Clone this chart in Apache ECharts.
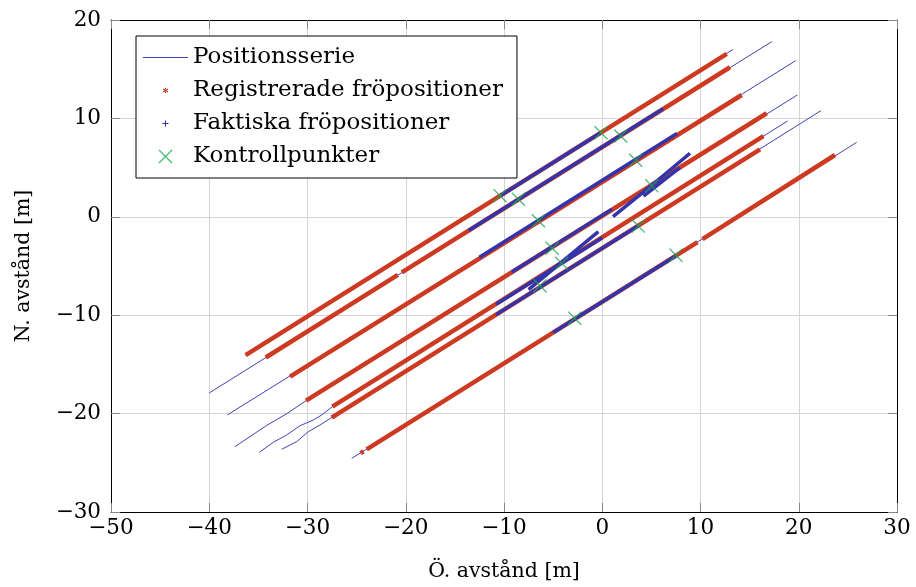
<!DOCTYPE html>
<html>
<head>
<meta charset="utf-8">
<script src="https://cdn.jsdelivr.net/npm/echarts@6/dist/echarts.min.js"></script>
<style>html,body{margin:0;padding:0;background:#fff}#c{width:916px;height:587px}</style>
</head>
<body>
<div id="c"></div>
<script>
// ---------- data ----------
const xTicks = [-50, -40, -30, -20, -10, 0, 10, 20, 30];
const yTicks = [-30, -20, -10, 0, 10, 20];

// Positionsserie: one polyline per swath
const pos1 = [[-36.3, -14.05], [13.3, 17.0]];
const pos2 = [[-40.0, -17.9], [17.25, 17.8]];
const pos3 = [[-38.16, -20.14], [19.69, 15.87]];
const pos4 = [[-37.38, -23.36], [-34.15, -21.2], [-32.1, -20.0], [-30.15, -18.69], [19.86, 12.38]];
const pos5 = [[-34.9, -23.93], [-33.48, -22.92], [-32.12, -22.17], [-30.76, -21.23], [-29.41, -20.65], [-28.55, -20.14], [-27.47, -19.3], [18.87, 9.74]];
const pos6 = [[-32.63, -23.63], [-31.1, -22.85], [-29.92, -21.84], [-28.73, -21.16], [-27.54, -20.4], [22.26, 10.79]];
const pos7 = [[-25.5, -24.55], [25.9, 7.57]];

// Registrerade fröpositioner: stretches of recorded positions
const reg1 = [[-36.3, -14.05], [12.67, 16.56]];
const reg2a = [[-34.25, -14.3], [-20.8, -5.9]];
const reg2b = [[-20.4, -5.65], [13.0, 15.2]];
const reg3 = [[-31.78, -16.25], [14.19, 12.38]];
const reg4 = [[-30.15, -18.69], [16.74, 10.52]];
const reg5 = [[-27.47, -19.3], [16.4, 8.2]];
const reg6 = [[-27.54, -20.4], [16.06, 6.86]];
const reg7a = [[-24.6, -24.02], [-24.3, -23.83]];
const reg7b = [[-23.98, -23.63], [9.7, -2.58]];
const reg7c = [[10.2, -2.27], [23.69, 6.28]];

// Faktiska fröpositioner: stretches of actual positions
const fak1 = [[-10.3, 2.2], [-0.2, 8.52]];
const fak2 = [[-13.6, -1.4], [6.2, 10.98]];
const fak3 = [[-12.5, -4.1], [7.6, 8.46]];
const fak4 = [[-9.2, -5.6], [1.0, 0.78]];
const fak4spur = [[1.09, 0.01], [5.03, 3.2], [8.93, 6.46]];
const fak4spur2 = [[4.2, 2.1], [7.9, 5.0]];
const fak45spur = [[-7.5, -7.4], [-0.4, -1.5]];
const fak5 = [[-10.8, -8.88], [0.0, -2.13]];
const fak6 = [[-10.8, -9.94], [3.7, -0.88]];
const fak7 = [[-5.0, -11.76], [7.5, -3.95]];

// Kontrollpunkter
const ctrlX = [-10.4, -8.54, -0.13, 1.88, 3.4, 5.05, -6.5, 3.67, -5.1, -4.13, -6.34, 7.5, -2.8];
const ctrlY = [2.15, 1.78, 8.55, 8.21, 5.75, 3.15, -0.4, -0.94, -3.2, -4.73, -7.0, -3.9, -10.3];

// ---------- styling ----------
const FONT = 'DejaVu Serif';
const C_POS = '#4141b4';
const C_REG = '#cc3a22';
const C_FAK = '#3434aa';
const C_CTRL = '#1fa855';

const ICON_LINE = 'path://M0,6.6H45V7.4H0Z';
const ICON_AST = 'path://M0,0M14,14M6.45,4.2H7.55V9.8H6.45Z M9.12,8.92L9.72,7.88L4.88,5.08L4.28,6.12Z M9.72,6.12L9.12,5.08L4.28,7.88L4.88,8.92Z';
const ICON_PLUS = 'path://M0,0M14,14M6.5,4H7.5V10H6.5Z M4,6.5H10V7.5H4Z';
const ICON_X = 'path://M12.58,13.42L13.42,12.58L1.42,0.58L0.58,1.42Z M0.58,12.58L1.42,13.42L13.42,1.42L12.58,0.58Z';

const minus = v => String(v).replace('-', '\u2212');

function posSeries(d) {
  return { name: 'Positionsserie', type: 'line', data: d, symbol: 'none', showSymbol: false,
    lineStyle: { color: C_POS, width: 1 }, itemStyle: { color: C_POS }, z: 2, silent: true };
}
function regSeries(d) {
  return { name: 'Registrerade fröpositioner', type: 'line', data: d, symbol: 'none', showSymbol: false,
    lineStyle: { color: C_REG, width: 4.5, cap: 'butt' }, itemStyle: { color: C_REG }, z: 3, silent: true };
}
function fakSeries(d) {
  return { name: 'Faktiska fröpositioner', type: 'line', data: d, symbol: 'none', showSymbol: false,
    lineStyle: { color: C_FAK, width: 3.5, cap: 'butt' }, itemStyle: { color: C_FAK }, z: 4, silent: true };
}

const series = []
  .concat([pos1, pos2, pos3, pos4, pos5, pos6, pos7].map(posSeries))
  .concat([reg1, reg2a, reg2b, reg3, reg4, reg5, reg6, reg7a, reg7b, reg7c].map(regSeries))
  .concat([fak1, fak2, fak3, fak4, fak4spur, fak4spur2, fak45spur, fak5, fak6, fak7].map(fakSeries));
series.push({
  name: 'Kontrollpunkter', type: 'scatter', data: ctrlX.map((x, i) => [x, ctrlY[i]]),
  symbol: ICON_X, symbolSize: 14, itemStyle: { color: C_CTRL }, z: 5, silent: true
});

const axisCommon = {
  type: 'value',
  axisLine: { show: true, onZero: false, lineStyle: { color: '#000', width: 1 } },
  axisTick: { show: true, inside: true, length: 9, lineStyle: { color: '#888' } },
};

const option = {
  animation: false,
  backgroundColor: '#fff',
  grid: { left: 111, right: 19, top: 20, bottom: 75, containLabel: false },
  xAxis: [
    Object.assign({}, axisCommon, {
      min: -50, max: 30, interval: 10, position: 'bottom',
      axisLabel: { fontFamily: FONT, fontSize: 21.5, color: '#000', margin: 5, formatter: minus, hideOverlap: false },
      splitLine: { show: true, lineStyle: { color: '#d4d4d4', width: 1 } },
      name: 'Ö. avstånd [m]', nameLocation: 'middle', nameGap: 49,
      nameTextStyle: { fontFamily: FONT, fontSize: 20.5, color: '#000' }
    }),
    Object.assign({}, axisCommon, {
      min: -50, max: 30, interval: 10, position: 'top',
      axisLabel: { show: false }, splitLine: { show: false }
    })
  ],
  yAxis: [
    Object.assign({}, axisCommon, {
      min: -30, max: 20, interval: 10, position: 'left',
      axisLabel: { fontFamily: FONT, fontSize: 21.5, color: '#000', margin: 10, formatter: minus },
      splitLine: { show: true, lineStyle: { color: '#d4d4d4', width: 1 } },
      name: 'N. avstånd [m]', nameLocation: 'middle', nameGap: 77, nameRotate: 90,
      nameTextStyle: { fontFamily: FONT, fontSize: 20.5, color: '#000' }
    }),
    Object.assign({}, axisCommon, {
      min: -30, max: 20, interval: 10, position: 'right',
      axisLabel: { show: false }, splitLine: { show: false }
    })
  ],
  legend: {
    orient: 'vertical', left: 136, top: 36,
    backgroundColor: '#fff', borderColor: '#000', borderWidth: 1, borderRadius: 0,
    padding: [9, 14, 9, 7], itemWidth: 45, itemHeight: 14, itemGap: 8,
    selectedMode: false,
    textStyle: { fontFamily: FONT, fontSize: 23, color: '#000', lineHeight: 25 },
    data: [
      { name: 'Positionsserie', icon: ICON_LINE, itemStyle: { color: C_POS } },
      { name: 'Registrerade fröpositioner', icon: ICON_AST, itemStyle: { color: C_REG } },
      { name: 'Faktiska fröpositioner', icon: ICON_PLUS, itemStyle: { color: C_FAK } },
      { name: 'Kontrollpunkter', icon: ICON_X, itemStyle: { color: C_CTRL } }
    ]
  },
  series: series
};

const chart = echarts.init(document.getElementById('c'), null, { renderer: 'canvas' });
chart.setOption(option);
</script>
</body>
</html>
